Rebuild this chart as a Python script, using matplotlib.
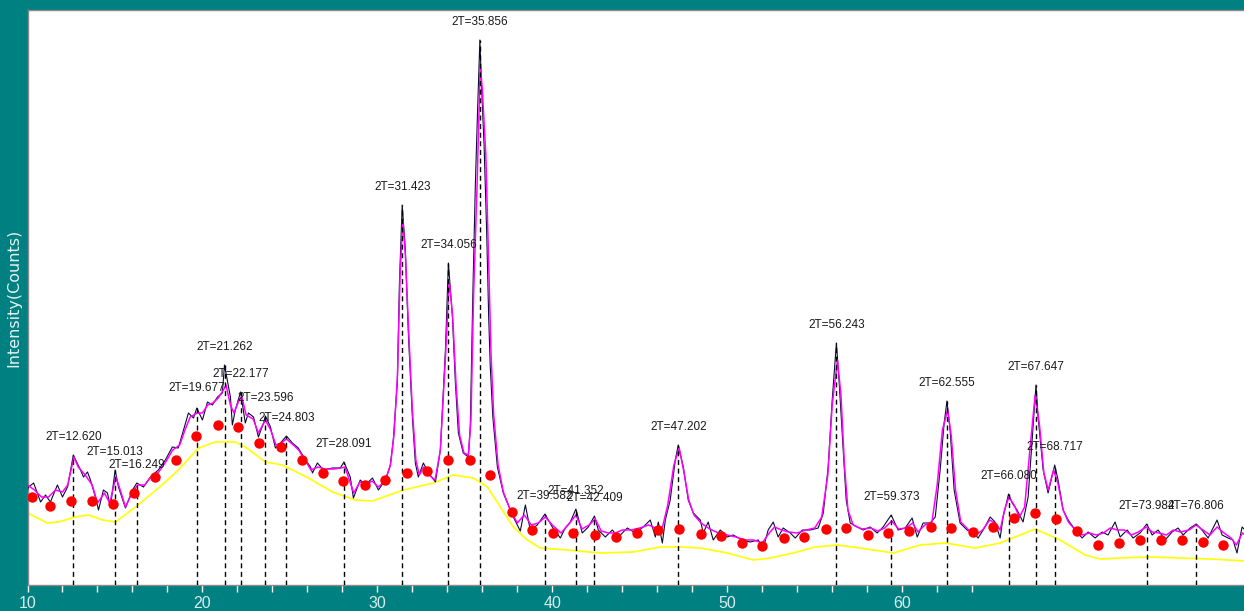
import matplotlib
matplotlib.use('Agg')
import matplotlib.pyplot as plt
import numpy as np

# raw scan (black line): (2theta, counts)
raw_pts = [(10.0, 95), (10.06, 98), (10.35, 102), (10.75, 83), (11.03, 90), (11.31, 83), (11.71, 100),
           (12.0, 88), (12.29, 98), (12.62, 130), (13.03, 115), (13.2, 108), (13.43, 113), (13.6, 105),
           (13.88, 88), (14.06, 75), (14.34, 95), (14.57, 92), (14.74, 78), (15.01, 115), (15.2, 98),
           (15.6, 77), (16.0, 95), (16.25, 102), (16.63, 98), (17.03, 108), (17.48, 115), (17.88, 125),
           (18.28, 138), (18.62, 137), (18.92, 155), (19.2, 172), (19.49, 167), (19.68, 177), (20.0, 165),
           (20.29, 183), (20.57, 180), (20.86, 188), (21.14, 192), (21.26, 220), (21.6, 188), (21.71, 160),
           (21.88, 175), (22.05, 185), (22.18, 193), (22.45, 162), (22.63, 172), (22.92, 168), (23.2, 148),
           (23.49, 162), (23.6, 169), (23.89, 158), (24.17, 137), (24.46, 142), (24.8, 149), (25.14, 142),
           (25.48, 137), (25.89, 125), (26.18, 118), (26.29, 112), (26.57, 122), (26.92, 115), (27.43, 117),
           (27.88, 117), (28.09, 123), (28.45, 108), (28.63, 87), (29.02, 105), (29.31, 100), (29.72, 107),
           (30.06, 95), (30.46, 105), (30.74, 120), (30.91, 145), (31.14, 202), (31.26, 302), (31.42, 380),
           (31.6, 335), (31.77, 252), (32.0, 168), (32.17, 122), (32.34, 108), (32.63, 122), (32.92, 112),
           (33.32, 103), (33.6, 135), (33.89, 235), (34.06, 322), (34.29, 268), (34.46, 202), (34.63, 152),
           (34.91, 132), (35.2, 128), (35.31, 158), (35.45, 285), (35.6, 400), (35.72, 470), (35.86, 545),
           (35.95, 500), (36.1, 440), (36.25, 352), (36.36, 270), (36.45, 220), (36.6, 168), (36.86, 118),
           (37.2, 92), (37.6, 75), (37.77, 68), (38.17, 54), (38.46, 80), (38.74, 55), (39.14, 60),
           (39.58, 71), (40.0, 58), (40.46, 47), (40.74, 57), (41.03, 63), (41.35, 76), (41.71, 52),
           (42.06, 58), (42.41, 69), (42.63, 55), (43.03, 48), (43.43, 55), (43.77, 48), (44.29, 57),
           (44.74, 52), (45.2, 58), (45.6, 65), (45.89, 48), (46.06, 63), (46.29, 42), (46.46, 65),
           (46.74, 85), (47.03, 125), (47.2, 140), (47.49, 118), (47.77, 85), (48.06, 72), (48.46, 65),
           (48.63, 52), (48.91, 63), (49.2, 45), (49.6, 55), (50.0, 48), (50.34, 50), (50.86, 45),
           (51.31, 43), (51.77, 45), (52.06, 37), (52.34, 55), (52.63, 63), (52.91, 48), (53.2, 57),
           (53.6, 52), (53.89, 47), (54.29, 55), (54.74, 55), (55.2, 57), (55.49, 72), (55.77, 118),
           (56.0, 185), (56.24, 242), (56.4, 202), (56.63, 135), (56.8, 85), (57.03, 62), (57.43, 58),
           (57.77, 55), (58.17, 58), (58.57, 52), (58.91, 58), (59.37, 70), (59.77, 55), (60.17, 57),
           (60.57, 67), (60.86, 48), (61.2, 62), (61.6, 62), (61.89, 68), (62.17, 115), (62.4, 162),
           (62.56, 184), (62.74, 155), (62.97, 95), (63.31, 62), (63.71, 55), (64.06, 52), (64.34, 47),
           (64.63, 55), (65.03, 68), (65.31, 63), (65.6, 47), (65.77, 68), (66.08, 91), (66.29, 82),
           (66.57, 75), (66.91, 63), (67.2, 88), (67.43, 145), (67.65, 200), (67.77, 168), (68.06, 115),
           (68.34, 92), (68.72, 120), (68.91, 105), (69.2, 75), (69.49, 65), (69.89, 55), (70.29, 47),
           (70.63, 53), (71.03, 47), (71.43, 53), (71.77, 50), (72.17, 63), (72.46, 48), (72.86, 55),
           (73.2, 47), (73.6, 52), (73.98, 61), (74.29, 50), (74.63, 55), (75.03, 45), (75.43, 53),
           (75.77, 57), (76.06, 50), (76.46, 57), (76.81, 61), (77.14, 55), (77.49, 47), (78.0, 65),
           (78.29, 50), (78.63, 47), (78.91, 45), (79.14, 32), (79.43, 58), (79.6, 55)]

# smoothed profile (magenta)
fit_pts = [(10.0, 100), (10.4, 95), (10.8, 88), (11.2, 88), (11.6, 95), (12.0, 93), (12.3, 100), (12.65, 128),
           (12.9, 118), (13.3, 110), (13.7, 100), (14.0, 82), (14.4, 92), (14.7, 82), (15.05, 108), (15.3, 95),
           (15.6, 78), (16.0, 93), (16.3, 100), (16.7, 100), (17.0, 107), (17.5, 113), (17.9, 123), (18.3, 135),
           (18.7, 140), (19.0, 155), (19.3, 168), (19.7, 172), (20.0, 172), (20.3, 180), (20.6, 182), (20.9, 187),
           (21.2, 195), (21.35, 200), (21.6, 180), (21.8, 172), (22.1, 185), (22.25, 188), (22.5, 170),
           (22.9, 166), (23.2, 152), (23.6, 165), (23.9, 155), (24.2, 140), (24.5, 142), (24.8, 146),
           (25.2, 140), (25.5, 135), (25.9, 124), (26.2, 115), (26.6, 118), (27.0, 116), (27.5, 116),
           (27.9, 117), (28.15, 118), (28.4, 105), (28.65, 92), (29.0, 103), (29.3, 100), (29.7, 104),
           (30.05, 98), (30.45, 104), (30.75, 120), (30.95, 150), (31.15, 210), (31.3, 310), (31.45, 365),
           (31.6, 330), (31.8, 250), (32.0, 175), (32.2, 125), (32.4, 110), (32.65, 118), (32.95, 110),
           (33.3, 105), (33.6, 135), (33.9, 230), (34.1, 305), (34.3, 270), (34.5, 200), (34.7, 150),
           (34.95, 132), (35.2, 130), (35.35, 165), (35.5, 290), (35.7, 400), (35.88, 520), (36.0, 495),
           (36.2, 430), (36.35, 330), (36.5, 230), (36.65, 170), (36.9, 120), (37.2, 93), (37.6, 75),
           (38.0, 62), (38.4, 70), (38.8, 60), (39.2, 62), (39.6, 68), (40.0, 60), (40.5, 52), (41.0, 62),
           (41.35, 70), (41.7, 56), (42.1, 60), (42.45, 66), (42.8, 54), (43.2, 52), (43.6, 52), (44.0, 55),
           (44.5, 55), (45.0, 57), (45.5, 60), (45.9, 57), (46.3, 58), (46.6, 80), (46.95, 120), (47.25, 137),
           (47.5, 115), (47.8, 85), (48.1, 70), (48.5, 62), (49.0, 56), (49.5, 52), (50.0, 50), (50.5, 48),
           (51.0, 45), (51.5, 45), (52.0, 42), (52.4, 52), (52.7, 58), (53.1, 55), (53.5, 53), (54.0, 52),
           (54.5, 55), (55.0, 57), (55.4, 68), (55.75, 110), (56.0, 180), (56.3, 225), (56.5, 190),
           (56.7, 120), (56.9, 75), (57.2, 60), (57.7, 56), (58.2, 57), (58.6, 54), (59.0, 57), (59.4, 64),
           (59.8, 56), (60.2, 57), (60.6, 62), (60.9, 53), (61.3, 60), (61.7, 63), (62.0, 100), (62.3, 155),
           (62.6, 175), (62.8, 150), (63.05, 95), (63.35, 63), (63.8, 55), (64.2, 50), (64.6, 55), (65.0, 65),
           (65.3, 62), (65.6, 55), (65.85, 75), (66.1, 88), (66.4, 80), (66.7, 68), (67.0, 78), (67.3, 135),
           (67.6, 190), (67.85, 160), (68.1, 112), (68.35, 95), (68.65, 115), (68.9, 102), (69.2, 75),
           (69.5, 63), (69.9, 55), (70.3, 50), (70.7, 52), (71.1, 50), (71.5, 52), (71.9, 57), (72.3, 55),
           (72.7, 55), (73.1, 50), (73.5, 53), (73.95, 58), (74.3, 53), (74.7, 52), (75.1, 50), (75.5, 55),
           (75.9, 53), (76.4, 55), (76.8, 60), (77.2, 55), (77.6, 50), (78.0, 58), (78.4, 52), (78.8, 47),
           (79.1, 40), (79.45, 52), (79.6, 50)]

# background (yellow)
bg_pts = [(10.0, 72), (11.14, 62), (11.77, 63), (12.74, 68), (13.49, 70), (14.29, 65), (15.03, 63),
          (16.17, 78), (17.49, 97), (18.63, 115), (19.77, 137), (20.74, 143), (21.89, 143), (22.46, 138),
          (23.6, 123), (24.57, 120), (26.06, 107), (27.43, 93), (28.74, 85), (29.71, 84), (31.49, 95),
          (33.2, 102), (34.34, 110), (35.49, 107), (36.29, 98), (37.03, 78), (37.77, 58), (38.57, 45),
          (39.31, 37), (40.86, 35), (42.74, 32), (44.63, 33), (46.17, 38), (47.31, 38), (48.46, 37),
          (50.0, 32), (51.49, 25), (52.46, 27), (53.77, 32), (55.03, 38), (56.29, 40), (57.6, 37),
          (59.49, 32), (61.03, 40), (62.46, 42), (64.17, 37), (65.6, 42), (67.6, 56), (69.03, 45),
          (70.46, 30), (71.31, 26), (72.46, 27), (74.17, 28), (75.89, 27), (77.6, 26), (79.6, 24)]

# red points
dot_x = [10.23, 11.31, 12.51, 13.71, 14.86, 16.11, 17.26, 18.51, 19.66, 20.91, 22.06, 23.26, 24.51, 25.71,
         26.91, 28.06, 29.31, 30.46, 31.71, 32.86, 34.06, 35.31, 36.46, 37.71, 38.86, 40.06, 41.2, 42.46,
         43.66, 44.86, 46.06, 47.26, 48.51, 49.66, 50.86, 52.0, 53.26, 54.4, 55.66, 56.8, 58.06, 59.2,
         60.4, 61.66, 62.8, 64.06, 65.2, 66.4, 67.6, 68.8, 70.0, 71.2, 72.4, 73.6, 74.8, 76.0, 77.2, 78.34]
dot_y = [88, 79, 84, 84, 81, 92, 108, 125, 149, 160, 158, 142, 138, 125,
         112, 104, 100, 105, 112, 114, 125, 125, 110, 73, 55, 52, 52, 50,
         48, 52, 55, 56, 51, 49, 42, 39, 47, 48, 56, 57, 50, 52,
         54, 58, 57, 53, 58, 67, 72, 66, 54, 40, 42, 45, 45, 45, 43, 40]

# peak markers
peak_pos = ['12.620', '15.013', '16.249', '19.677', '21.262', '22.177', '23.596', '24.803', '28.091',
            '31.423', '34.056', '35.856', '39.582', '41.352', '42.409', '47.202', '56.243', '59.373',
            '62.555', '66.080', '67.647', '68.717', '73.984', '76.806']
peak_top = [130, 115, 102, 179, 220, 193, 169, 149, 123,
            380, 322, 545, 71, 76, 69, 140, 242, 70,
            184, 91, 200, 120, 61, 61]

raw = np.array(raw_pts)
fit = np.array(fit_pts)
bg = np.array(bg_pts)

teal = '#008080'
fig = plt.figure(figsize=(12.44, 6.11), dpi=100, facecolor=teal)
ax = fig.add_axes([27.5 / 1244, 26 / 611, 1 - 27.5 / 1244, 575 / 611])
ax.set_facecolor('white')

ax.plot(bg[:, 0], bg[:, 1], color='#ffff00', lw=1.2, zorder=2)
ax.plot(raw[:, 0], raw[:, 1], color='#0b0b3a', lw=0.8, zorder=3)
ax.plot(fit[:, 0], fit[:, 1], color='#ff00ff', lw=1.1, zorder=4)

for p, top in zip(peak_pos, peak_top):
    xp = float(p)
    ax.plot([xp, xp], [0, top], color='black', lw=1.0, ls=(0, (3.6, 2.6)), zorder=5)
    ax.annotate('2T=' + p, (xp, top), xytext=(0, 18), textcoords='offset pixels',
                ha='center', va='center', fontsize=8.5, family='Liberation Sans',
                color='#1a1a1a', zorder=7)

ax.plot(dot_x, dot_y, 'o', color='#ff0000', ms=7.5, mec='none', zorder=6)

ax.set_xlim(10, 79.54)
ax.set_ylim(0, 575)
ax.set_yticks([])
ticks = list(range(10, 65, 2))
ax.set_xticks(ticks)
ax.set_xticklabels([str(t) if t % 10 == 0 else '' for t in ticks])
ax.tick_params(axis='x', direction='out', length=5, width=1, color='white', pad=3,
               labelsize=11.5, labelcolor='#d8ecec')
for lab in ax.get_xticklabels():
    lab.set_family('Liberation Sans')

ax.spines['right'].set_visible(False)
for s in ['top', 'left', 'bottom']:
    ax.spines[s].set_color('#8a8a8a')
    ax.spines[s].set_linewidth(1)

fig.text(14 / 1244, 1 - 298 / 611, 'Intensity(Counts)', rotation=90, ha='center', va='center',
         fontsize=11.5, family='DejaVu Sans', color='#e4f2f2')

fig.savefig('out.png', dpi=100, facecolor=teal)
